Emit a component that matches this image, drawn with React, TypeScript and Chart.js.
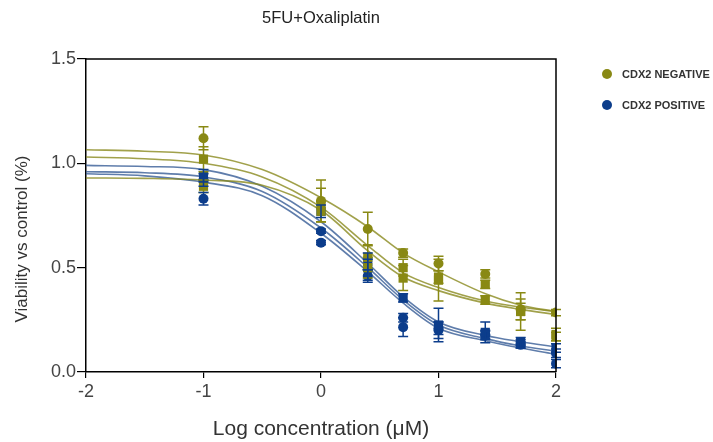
import React, { useEffect, useRef } from "react";
import { Chart, registerables } from "chart.js";

Chart.register(...registerables);

// ---------- data ----------
const TITLE = "5FU+Oxaliplatin";
const X_TITLE = "Log concentration (μM)";
const Y_TITLE = "Viability vs control (%)";
const LEGEND_LABELS = ["CDX2 NEGATIVE", "CDX2 POSITIVE"];

// measured doses (log10 µM): 0.1, 1, 2.5, 5, 10, 25, 50, 100
const DOSE_LOG = [-1, 0, 0.398, 0.699, 1, 1.398, 1.699, 2];

const NEG_A = [1.12, 0.82, 0.685, 0.57, 0.52, 0.47, 0.30, 0.285];
const NEG_A_ERR = [0.055, 0.1, 0.08, 0.02, 0.035, 0.02, 0.05, 0.015];
const NEG_B = [1.02, 0.80, 0.55, 0.50, 0.455, 0.42, 0.29, 0.18];
const NEG_B_ERR = [0.06, 0.08, 0.06, 0.04, 0.03, 0.02, 0.09, 0.03];
const NEG_C = [0.89, 0.77, 0.50, 0.45, 0.44, 0.345, 0.29, 0.17];
const NEG_C_ERR = [0.03, 0.05, 0.05, 0.06, 0.1, 0.02, 0.04, 0.02];

const POS_A = [0.94, 0.77, 0.53, 0.355, 0.225, 0.19, 0.145, 0.115];
const POS_A_ERR = [0.03, 0.03, 0.04, 0.02, 0.08, 0.05, 0.02, 0.02];
const POS_B = [0.92, 0.675, 0.49, 0.26, 0.21, 0.18, 0.135, 0.09];
const POS_B_ERR = [0.03, 0.01, 0.05, 0.02, 0.03, 0.02, 0.02, 0.02];
const POS_C = [0.83, 0.62, 0.46, 0.215, 0.20, 0.175, 0.13, 0.04];
const POS_C_ERR = [0.03, 0.01, 0.03, 0.045, 0.04, 0.02, 0.015, 0.02];

// fitted curves
const CURVE_X = [-2, -1.5, -1, -0.5, 0, 0.4, 0.7, 1, 1.4, 1.7, 2];
const NEG_FIT_A = [1.065, 1.058, 1.04, 0.97, 0.835, 0.695, 0.57, 0.48, 0.375, 0.32, 0.29];
const NEG_FIT_B = [1.03, 1.022, 1.0, 0.935, 0.79, 0.605, 0.475, 0.405, 0.34, 0.31, 0.29];
const NEG_FIT_C = [0.93, 0.928, 0.92, 0.895, 0.775, 0.58, 0.455, 0.39, 0.33, 0.3, 0.275];
const POS_FIT_A = [0.99, 0.985, 0.97, 0.89, 0.72, 0.52, 0.36, 0.24, 0.175, 0.145, 0.12];
const POS_FIT_B = [0.96, 0.955, 0.935, 0.865, 0.69, 0.5, 0.345, 0.225, 0.16, 0.125, 0.1];
const POS_FIT_C = [0.95, 0.94, 0.91, 0.845, 0.665, 0.48, 0.33, 0.21, 0.15, 0.115, 0.085];

const X_TICKS = [-2, -1, 0, 1, 2];
const Y_TICKS = [0, 0.5, 1.0, 1.5];

// ---------- styles ----------
const OLIVE = "#898914";
const BLUE = "#0c3d8b";
const OLIVE_LINE = "rgba(137,137,30,0.8)";
const BLUE_LINE = "rgba(55,92,150,0.8)";
const FONT = "'Liberation Sans', Arial, sans-serif";

const toXY = (xs: number[], ys: number[]) => xs.map((x, i) => ({ x, y: ys[i] }));

const fitSet = (ys: number[], color: string) => ({
  type: "line" as const,
  data: toXY(CURVE_X, ys),
  borderColor: color,
  borderWidth: 1.6,
  pointRadius: 0,
  cubicInterpolationMode: "monotone" as const,
  fill: false,
  order: 2,
});

const pointSet = (ys: number[], errs: number[], color: string, style: string) => ({
  type: "line" as const,
  data: toXY(DOSE_LOG, ys),
  errors: errs,
  showLine: false,
  pointStyle: style,
  pointRadius: style === "rect" ? 6.5 : 5,
  backgroundColor: color,
  borderColor: color,
  borderWidth: 0,
  order: 1,
});

const errorBars = {
  id: "errorBars",
  afterDatasetsDraw(chart: any) {
    const { ctx, scales } = chart;
    chart.data.datasets.forEach((ds: any) => {
      if (!ds.errors) return;
      ctx.save();
      ctx.strokeStyle = ds.borderColor;
      ctx.lineWidth = 1.5;
      ds.data.forEach((p: any, i: number) => {
        const e = ds.errors[i];
        const px = scales.x.getPixelForValue(p.x);
        const yt = scales.y.getPixelForValue(p.y + e);
        const yb = scales.y.getPixelForValue(p.y - e);
        ctx.beginPath();
        ctx.moveTo(px, yt);
        ctx.lineTo(px, yb);
        ctx.moveTo(px - 5, yt);
        ctx.lineTo(px + 5, yt);
        ctx.moveTo(px - 5, yb);
        ctx.lineTo(px + 5, yb);
        ctx.stroke();
      });
      ctx.restore();
    });
  },
};

const decorations = {
  id: "decorations",
  afterDraw(chart: any) {
    const { ctx, chartArea } = chart;
    const { left, right, top, bottom } = chartArea;
    ctx.save();
    // box top + right
    ctx.strokeStyle = "#000";
    ctx.lineWidth = 1.5;
    ctx.beginPath();
    ctx.moveTo(left, top);
    ctx.lineTo(right, top);
    ctx.lineTo(right, bottom);
    ctx.stroke();
    // title
    ctx.fillStyle = "#222";
    ctx.font = `16.5px ${FONT}`;
    ctx.textAlign = "center";
    ctx.textBaseline = "middle";
    ctx.fillText(TITLE, (left + right) / 2, 18);
    // y title
    ctx.save();
    ctx.translate(22, 239);
    ctx.rotate(-Math.PI / 2);
    ctx.fillStyle = "#333";
    ctx.font = `17px ${FONT}`;
    ctx.fillText(Y_TITLE, 0, 0);
    ctx.restore();
    // legend
    const colors = [OLIVE, BLUE];
    const ys = [74, 105];
    ctx.textAlign = "left";
    ctx.font = `bold 11px ${FONT}`;
    LEGEND_LABELS.forEach((lab, i) => {
      ctx.fillStyle = colors[i];
      ctx.beginPath();
      ctx.arc(607, ys[i], 5, 0, Math.PI * 2);
      ctx.fill();
      ctx.fillStyle = "#333";
      ctx.fillText(lab, 622, ys[i] + 1);
    });
    ctx.restore();
  },
};

export default function App() {
  const ref = useRef<HTMLCanvasElement>(null);
  useEffect(() => {
    if (!ref.current) return;
    const chart = new Chart(ref.current, {
      type: "line",
      data: {
        datasets: [
          fitSet(NEG_FIT_A, OLIVE_LINE),
          fitSet(NEG_FIT_B, OLIVE_LINE),
          fitSet(NEG_FIT_C, OLIVE_LINE),
          fitSet(POS_FIT_A, BLUE_LINE),
          fitSet(POS_FIT_B, BLUE_LINE),
          fitSet(POS_FIT_C, BLUE_LINE),
          pointSet(NEG_A, NEG_A_ERR, OLIVE, "circle"),
          pointSet(NEG_B, NEG_B_ERR, OLIVE, "rect"),
          pointSet(NEG_C, NEG_C_ERR, OLIVE, "rect"),
          pointSet(POS_A, POS_A_ERR, BLUE, "rect"),
          pointSet(POS_B, POS_B_ERR, BLUE, "circle"),
          pointSet(POS_C, POS_C_ERR, BLUE, "circle"),
        ] as any,
      },
      options: {
        animation: false,
        responsive: false,
        devicePixelRatio: 1,
        layout: { padding: { top: 59, right: 157, left: 0, bottom: 0 } },
        plugins: { legend: { display: false }, tooltip: { enabled: false }, title: { display: false } },
        scales: {
          x: {
            type: "linear",
            min: -2,
            max: 2,
            afterFit: (s: any) => { s.height = 70; },
            afterBuildTicks: (s: any) => { s.ticks = X_TICKS.map((v) => ({ value: v })); },
            ticks: { font: { size: 18, family: FONT }, color: "#444", padding: 3, maxRotation: 0 },
            grid: { drawOnChartArea: false, drawTicks: true, tickLength: 6, color: "#000", lineWidth: 1.2 },
            border: { display: true, color: "#000", width: 1.5, dash: [2.5, 2.5] },
            title: { display: true, text: X_TITLE, font: { size: 21, family: FONT }, color: "#333", padding: { top: 0, bottom: 0 } },
          },
          y: {
            type: "linear",
            min: 0,
            max: 1.5,
            afterFit: (s: any) => { s.width = 86; },
            afterBuildTicks: (s: any) => { s.ticks = Y_TICKS.map((v) => ({ value: v })); },
            ticks: { font: { size: 18, family: FONT }, color: "#444", padding: 1, callback: (v: any) => Number(v).toFixed(1) },
            grid: { drawOnChartArea: false, drawTicks: true, tickLength: 9, color: "#000", lineWidth: 1.2 },
            border: { display: true, color: "#000", width: 1.5 },
            title: { display: false },
          },
        },
      },
      plugins: [errorBars, decorations],
    });
    return () => chart.destroy();
  }, []);
  return (
    <div style={{ position: "fixed", left: 0, top: 0, width: 713, height: 442, background: "#fff" }}>
      <canvas ref={ref} width={713} height={442} style={{ width: 713, height: 442, display: "block" }} />
    </div>
  );
}
